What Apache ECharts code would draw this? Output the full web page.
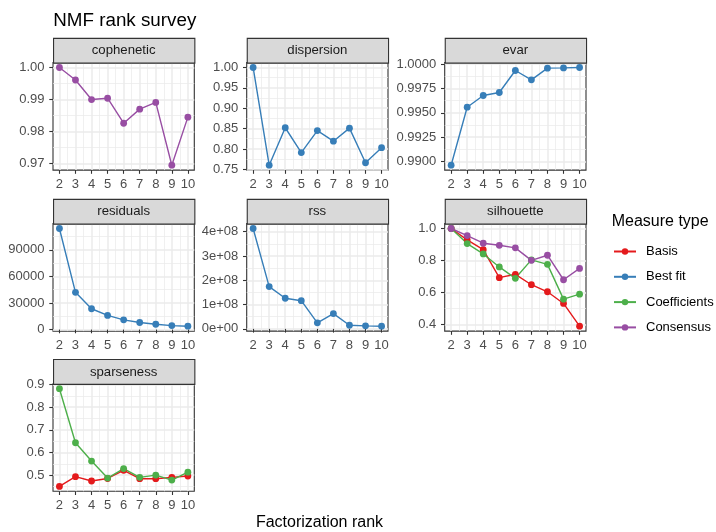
<!DOCTYPE html>
<html>
<head>
<meta charset="utf-8">
<script src="https://cdn.jsdelivr.net/npm/echarts@6/dist/echarts.min.js"></script>
<style>
  html, body { margin: 0; padding: 0; background: #fff; }
  #chart { width: 716px; height: 532px; }
</style>
</head>
<body>
<div id="chart"></div>
<script>
// factorization ranks on the x axis
const ranks = [2, 3, 4, 5, 6, 7, 8, 9, 10]
const rankLabels = ['2', '3', '4', '5', '6', '7', '8', '9', '10']
const measureTypes = ['Basis', 'Best fit', 'Coefficients', 'Consensus']
const measureColors = ['#E41A1C', '#377EB8', '#4DAF4A', '#984EA3']

// values
const copheneticConsensus = [1.0000, 0.9961, 0.9900, 0.9904, 0.9826, 0.9870, 0.9891, 0.9695, 0.9845]
const dispersionBestFit = [1.000, 0.760, 0.852, 0.791, 0.845, 0.819, 0.851, 0.766, 0.803]
const evarBestFit = [0.98962, 0.99558, 0.99678, 0.99709, 0.99935, 0.99839, 0.99959, 0.99962, 0.99966]
const residualsBestFit = [114000, 42000, 23500, 16000, 11000, 8000, 6000, 4500, 3800]
const rssBestFit = [4.13e8, 1.74e8, 1.26e8, 1.16e8, 2.5e7, 6.3e7, 1.5e7, 1.25e7, 1.1e7]
const silhouetteBasis = [1.000, 0.929, 0.868, 0.693, 0.714, 0.649, 0.605, 0.532, 0.390]
const silhouetteCoefficients = [1.000, 0.906, 0.841, 0.760, 0.689, 0.804, 0.776, 0.559, 0.590]
const silhouetteConsensus = [1.000, 0.956, 0.908, 0.895, 0.879, 0.801, 0.833, 0.680, 0.751]
const sparsenessBasis = [0.450, 0.493, 0.474, 0.485, 0.521, 0.484, 0.484, 0.490, 0.496]
const sparsenessCoefficients = [0.882, 0.643, 0.562, 0.487, 0.529, 0.490, 0.500, 0.478, 0.513]

// y tick values and their labels
const copheneticTicks = [0.97, 0.98, 0.99, 1.00]
const copheneticTickLabels = ['0.97', '0.98', '0.99', '1.00']
const dispersionTicks = [0.75, 0.80, 0.85, 0.90, 0.95, 1.00]
const dispersionTickLabels = ['0.75', '0.80', '0.85', '0.90', '0.95', '1.00']
const evarTicks = [0.9900, 0.9925, 0.9950, 0.9975, 1.0000]
const evarTickLabels = ['0.9900', '0.9925', '0.9950', '0.9975', '1.0000']
const residualsTicks = [0, 30000, 60000, 90000]
const residualsTickLabels = ['0', '30000', '60000', '90000']
const rssTicks = [0, 1e8, 2e8, 3e8, 4e8]
const rssTickLabels = ['0e+00', '1e+08', '2e+08', '3e+08', '4e+08']
const silhouetteTicks = [0.4, 0.6, 0.8, 1.0]
const silhouetteTickLabels = ['0.4', '0.6', '0.8', '1.0']
const sparsenessTicks = [0.5, 0.6, 0.7, 0.8, 0.9]
const sparsenessTickLabels = ['0.5', '0.6', '0.7', '0.8', '0.9']

const facets = [
  {name: 'cophenetic', ticks: copheneticTicks, labels: copheneticTickLabels, lines: [['Consensus', copheneticConsensus]]},
  {name: 'dispersion', ticks: dispersionTicks, labels: dispersionTickLabels, lines: [['Best fit', dispersionBestFit]]},
  {name: 'evar', ticks: evarTicks, labels: evarTickLabels, lines: [['Best fit', evarBestFit]]},
  {name: 'residuals', ticks: residualsTicks, labels: residualsTickLabels, lines: [['Best fit', residualsBestFit]]},
  {name: 'rss', ticks: rssTicks, labels: rssTickLabels, lines: [['Best fit', rssBestFit]]},
  {name: 'silhouette', ticks: silhouetteTicks, labels: silhouetteTickLabels,
    lines: [['Basis', silhouetteBasis], ['Coefficients', silhouetteCoefficients], ['Consensus', silhouetteConsensus]]},
  {name: 'sparseness', ticks: sparsenessTicks, labels: sparsenessTickLabels,
    lines: [['Basis', sparsenessBasis], ['Coefficients', sparsenessCoefficients]]}
]

// panel layout (px)
const FONT = '"Liberation Sans", Arial, sans-serif'
const colLeft = [53, 246.7, 444.7]
const rowTop = [37.8, 198.8, 359]
const panelW = 141.3
const stripH = 24.8
const panelH = 107.5
const borderColor = '#333333'
const gridColor = '#EBEBEB'

const xMin = 2 - 0.05 * 8
const xMax = 10 + 0.05 * 8
const xMinor = [2.5, 3.5, 4.5, 5.5, 6.5, 7.5, 8.5, 9.5]

function minorOf (ticks, lo, hi) {
  const step = ticks[1] - ticks[0]
  const out = []
  for (let i = -1; i < ticks.length; i++) {
    const v = ticks[0] + (i + 0.5) * step
    if (v > lo && v < hi) out.push(v)
  }
  return out
}

const grids = []
const xAxes = []
const yAxes = []
const series = []
const graphics = []

facets.forEach((f, g) => {
  const col = g % 3
  const row = Math.floor(g / 3)
  const left = colLeft[col]
  const top = rowTop[row] + stripH
  grids.push({left, top, width: panelW, height: panelH, show: true, borderColor, borderWidth: 1.1, outerBoundsMode: 'none'})

  let lo = Infinity
  let hi = -Infinity
  f.lines.forEach(l => l[1].forEach(v => { lo = Math.min(lo, v); hi = Math.max(hi, v) }))
  const pad = (hi - lo) * 0.05
  const yMin = lo - pad
  const yMax = hi + pad

  // major axes
  xAxes.push({
    type: 'value', gridIndex: g, min: xMin, max: xMax,
    axisLine: {show: false},
    axisTick: {show: true, length: 3.7, customValues: ranks, lineStyle: {color: borderColor, width: 1.1}},
    axisLabel: {customValues: ranks, margin: 7.5, fontSize: 13, fontFamily: FONT, color: '#4D4D4D',
      formatter: v => rankLabels[ranks.findIndex(r => Math.abs(r - v) < 1e-9)]},
    splitLine: {show: true, lineStyle: {color: gridColor, width: 1.5}}
  })
  yAxes.push({
    type: 'value', gridIndex: g, min: yMin, max: yMax,
    axisLine: {show: false},
    axisTick: {show: true, length: 3.7, customValues: f.ticks, lineStyle: {color: borderColor, width: 1.1}},
    axisLabel: {customValues: f.ticks, margin: 8.5, fontSize: 13, fontFamily: FONT, color: '#4D4D4D',
      formatter: v => {
        const i = f.ticks.findIndex(t => Math.abs(t - v) <= Math.abs(t) * 1e-9 + 1e-12)
        return i >= 0 ? f.labels[i] : ''
      }},
    splitLine: {show: true, lineStyle: {color: gridColor, width: 1.5}}
  })
  // minor grid lines
  xAxes.push({
    type: 'value', gridIndex: g, min: xMin, max: xMax,
    axisLine: {show: false}, axisLabel: {show: false},
    axisTick: {show: false, customValues: xMinor},
    splitLine: {show: true, lineStyle: {color: gridColor, width: 0.75}}
  })
  yAxes.push({
    type: 'value', gridIndex: g, min: yMin, max: yMax,
    axisLine: {show: false}, axisLabel: {show: false},
    axisTick: {show: false, customValues: minorOf(f.ticks, yMin, yMax)},
    splitLine: {show: true, lineStyle: {color: gridColor, width: 0.75}}
  })

  f.lines.forEach(([type, values]) => {
    const color = measureColors[measureTypes.indexOf(type)]
    series.push({
      name: type, type: 'line', xAxisIndex: 2 * g, yAxisIndex: 2 * g,
      data: ranks.map((r, i) => [r, values[i]]),
      symbol: 'circle', symbolSize: 6.8, color,
      lineStyle: {width: 1.4, color}, itemStyle: {color},
      clip: false
    })
  })

  // strip
  graphics.push({
    type: 'rect', left, top: rowTop[row], z: 10,
    shape: {width: panelW, height: stripH},
    style: {fill: '#D9D9D9', stroke: borderColor, lineWidth: 1.1}
  })
  graphics.push({
    type: 'text', x: left + panelW / 2, y: rowTop[row] + stripH / 2 + 0.5, z: 11,
    style: {text: f.name, fill: '#1A1A1A', font: `13.2px ${FONT}`, align: 'center', verticalAlign: 'middle'}
  })
})

graphics.push({
  type: 'text', x: 53.3, y: 20.5, z: 11,
  style: {text: 'NMF rank survey', fill: '#000', font: `18.8px ${FONT}`, align: 'left', verticalAlign: 'middle'}
})
graphics.push({
  type: 'text', x: 319.5, y: 522.5, z: 11,
  style: {text: 'Factorization rank', fill: '#000', font: `16px ${FONT}`, align: 'center', verticalAlign: 'middle'}
})
graphics.push({
  type: 'text', x: 611.7, y: 221.5, z: 11,
  style: {text: 'Measure type', fill: '#000', font: `16px ${FONT}`, align: 'left', verticalAlign: 'middle'}
})

const myChart = echarts.init(document.getElementById('chart'), null, {renderer: 'canvas'})
myChart.setOption({
  animation: false,
  backgroundColor: '#fff',
  grid: grids,
  xAxis: xAxes,
  yAxis: yAxes,
  legend: {
    orient: 'vertical', left: 613, top: 244.5, padding: 0,
    itemWidth: 22, itemHeight: 8, itemGap: 11.3,
    data: measureTypes,
    textStyle: {fontSize: 13, fontFamily: FONT, color: '#000', lineHeight: 14, padding: [0, 0, 0, 5]}
  },
  graphic: graphics,
  series
})
</script>
</body>
</html>
